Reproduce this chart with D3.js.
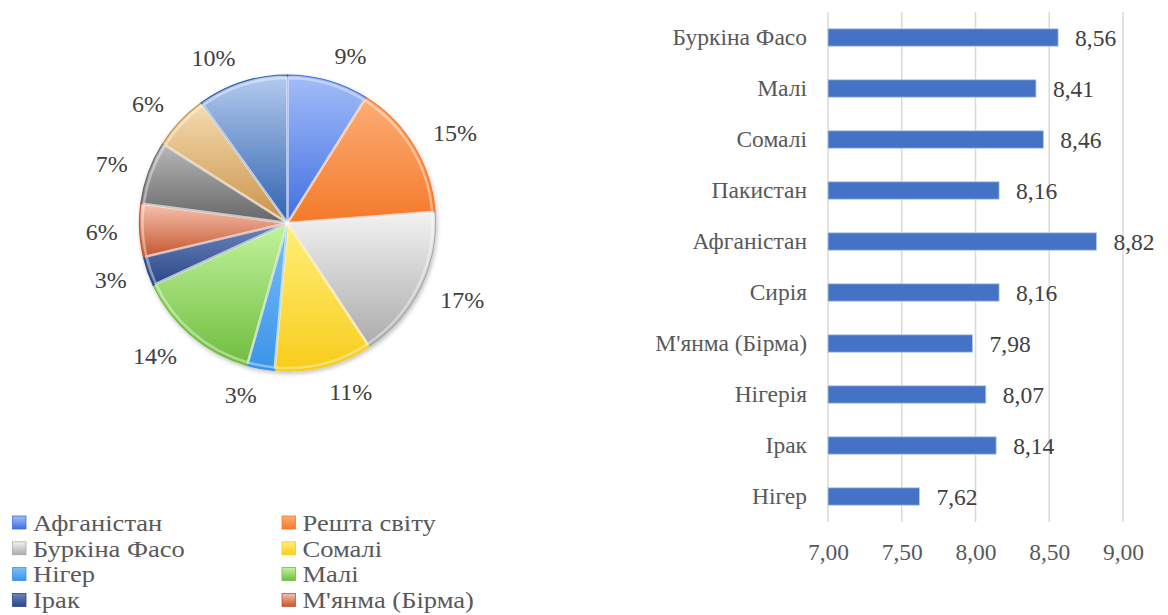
<!DOCTYPE html>
<html>
<head>
<meta charset="utf-8">
<script src="https://cdn.jsdelivr.net/npm/d3@7"></script>
</head>
<body style="margin: 0; background: #fff;">
<div id="chart"></div>
<script>
// pie data (clockwise from 12 o'clock)
const pieNames = ["Афганістан", "Решта світу", "Буркіна Фасо", "Сомалі", "Нігер", "Малі",
    "Ірак", "М'янма (Бірма)", "Пакистан", "Сирія", "Нігерія"];
const pieValues = [8.9, 14.9, 16.9, 10.7, 3.0, 13.7, 3.2, 5.8, 6.9, 6.1, 9.9];
const pieLight = ["#a3bdf8", "#fcae76", "#f2f2f2", "#fff07a", "#7cc0fa", "#c2f49c",
    "#6d86bd", "#f6c3ae", "#b8b8b8", "#f6dcb0", "#b4cbee"];
const pieDark = ["#3f6fe0", "#f4792a", "#ababab", "#f8cc1c", "#3a93e8", "#6fbd3f",
    "#2a4786", "#c55530", "#666666", "#c9924a", "#2f62b0"];
// only the first 8 legend entries fit in the picture
const legendCount = 8;

// bar data (top to bottom)
const barNames = ["Буркіна Фасо", "Малі", "Сомалі", "Пакистан", "Афганістан", "Сирія",
    "М'янма (Бірма)", "Нігерія", "Ірак", "Нігер"];
const barValues = [8.56, 8.41, 8.46, 8.16, 8.82, 8.16, 7.98, 8.07, 8.14, 7.62];
const barTicks = [7.00, 7.50, 8.00, 8.50, 9.00];

const FONT = '"Liberation Serif"';
const W = 1168, H = 615;
const svg = d3.select("#chart").append("svg")
    .attr("width", W)
    .attr("height", H)
    .style("display", "block");

const defs = svg.append("defs");
pieNames.forEach((n, i) => {
    let g = defs.append("linearGradient")
        .attr("id", "grad" + i)
        .attr("x1", 0).attr("y1", 0).attr("x2", 0).attr("y2", 1);
    g.append("stop").attr("offset", "0%").attr("stop-color", pieLight[i]);
    g.append("stop").attr("offset", "100%").attr("stop-color", pieDark[i]);
});
let shadow = defs.append("filter").attr("id", "shadow")
    .attr("x", "-10%").attr("y", "-10%").attr("width", "120%").attr("height", "120%");
shadow.append("feDropShadow")
    .attr("dx", 1).attr("dy", 2).attr("stdDeviation", 2)
    .attr("flood-color", "#000").attr("flood-opacity", 0.25);

// ---------- pie ----------
const cx = 287.5, cy = 223, radius = 148;
const pie = d3.pie().sort(null).value(d => d)(pieValues);
const total = d3.sum(pieValues);
const arc = d3.arc().innerRadius(0).outerRadius(radius);
const midAngle = d => (d.startAngle + d.endAngle) / 2;

const pieG = svg.append("g")
    .attr("transform", `translate(${cx}, ${cy})`);

pieG.append("g")
    .attr("filter", "url(#shadow)")
    .selectAll("path")
    .data(pie)
    .enter().append("path")
    .attr("d", arc)
    .attr("fill", (d, i) => `url(#grad${i})`)
    .attr("stroke", (d, i) => pieDark[i])
    .attr("stroke-width", 1.2)
    .attr("stroke-linejoin", "round");

// inner bevel highlight
const bevel = d3.arc().innerRadius(0).outerRadius(radius - 3);
pieG.append("g")
    .selectAll("path")
    .data(pie)
    .enter().append("path")
    .attr("d", bevel)
    .attr("fill", "none")
    .attr("stroke", "#fff")
    .attr("stroke-opacity", 0.4)
    .attr("stroke-width", 2.5);

// outside-end labels, anchored on the side away from the pie
pieG.append("g")
    .selectAll("text")
    .data(pie)
    .enter().append("text")
    .attr("x", d => 170 * Math.sin(midAngle(d)))
    .attr("y", d => -174 * Math.cos(midAngle(d)))
    .attr("text-anchor", d => Math.sin(midAngle(d)) >= 0 ? "start" : "end")
    .attr("dy", "0.35em")
    .style("font-family", FONT)
    .attr("font-size", 24)
    .attr("fill", "#404040")
    .text(d => Math.round(d.value / total * 100) + "%");

// legend (2 columns)
const legend = svg.append("g")
    .selectAll("g")
    .data(pieNames.slice(0, legendCount))
    .enter().append("g")
    .attr("transform", (d, i) => `translate(${i % 2 === 0 ? 12.5 : 282}, ${522.5 + Math.floor(i / 2) * 25.8})`);

legend.append("rect")
    .attr("x", 0)
    .attr("y", -6.5)
    .attr("width", 13.5)
    .attr("height", 13)
    .attr("fill", (d, i) => `url(#grad${i})`)
    .attr("stroke", (d, i) => pieDark[i])
    .attr("stroke-width", 0.8);

legend.append("text")
    .attr("transform", "translate(20.5, 0) scale(1.13, 1)")
    .attr("dy", "0.35em")
    .style("font-family", FONT)
    .attr("font-size", 23.5)
    .attr("fill", "#595959")
    .text(d => d);

// ---------- bar chart ----------
const comma = d3.formatLocale({decimal: ",", thousands: " ", grouping: [3], currency: ["", ""]}).format(".2f");

const x = d3.scaleLinear()
    .domain([7, 9])
    .range([828, 1123]);

const y = d3.scaleBand()
    .domain(barNames)
    .range([12, 522])
    .paddingInner(0.66)
    .paddingOuter(0.33);

const grid = svg.append("g");
grid.selectAll("line")
    .data(barTicks)
    .enter().append("line")
    .attr("x1", d => x(d))
    .attr("x2", d => x(d))
    .attr("y1", 12)
    .attr("y2", 522)
    .attr("stroke", "#d9d9d9")
    .attr("stroke-width", 1.5);

const xAxis = d3.axisBottom(x)
    .tickValues(barTicks)
    .tickFormat(comma)
    .tickSize(0)
    .tickPadding(0);

const xAxisG = svg.append("g")
    .attr("transform", "translate(0, 543)")
    .call(xAxis);
xAxisG.select(".domain").remove();
xAxisG.selectAll("text")
    .style("font-family", FONT)
    .attr("font-size", 23.5)
    .attr("fill", "#595959");

const yAxis = d3.axisLeft(y)
    .tickSize(0)
    .tickPadding(21);

const yAxisG = svg.append("g")
    .attr("transform", `translate(${x(7)}, 0)`)
    .call(yAxis);
yAxisG.select(".domain").remove();
yAxisG.selectAll("text")
    .style("font-family", FONT)
    .attr("font-size", 23.5)
    .attr("fill", "#595959");

svg.append("g")
    .selectAll("rect")
    .data(barValues)
    .enter().append("rect")
    .attr("x", x(7))
    .attr("y", (d, i) => y(barNames[i]))
    .attr("width", d => x(d) - x(7))
    .attr("height", y.bandwidth())
    .attr("fill", "#4472c4")
    .attr("stroke", "#b4c7e7")
    .attr("stroke-width", 0.8);

svg.append("g")
    .selectAll("text")
    .data(barValues)
    .enter().append("text")
    .attr("x", d => x(d) + 17)
    .attr("y", (d, i) => y(barNames[i]) + y.bandwidth() / 2)
    .attr("dy", "0.35em")
    .style("font-family", FONT)
    .attr("font-size", 23.5)
    .attr("fill", "#404040")
    .text(d => comma(d));
</script>
</body>
</html>
